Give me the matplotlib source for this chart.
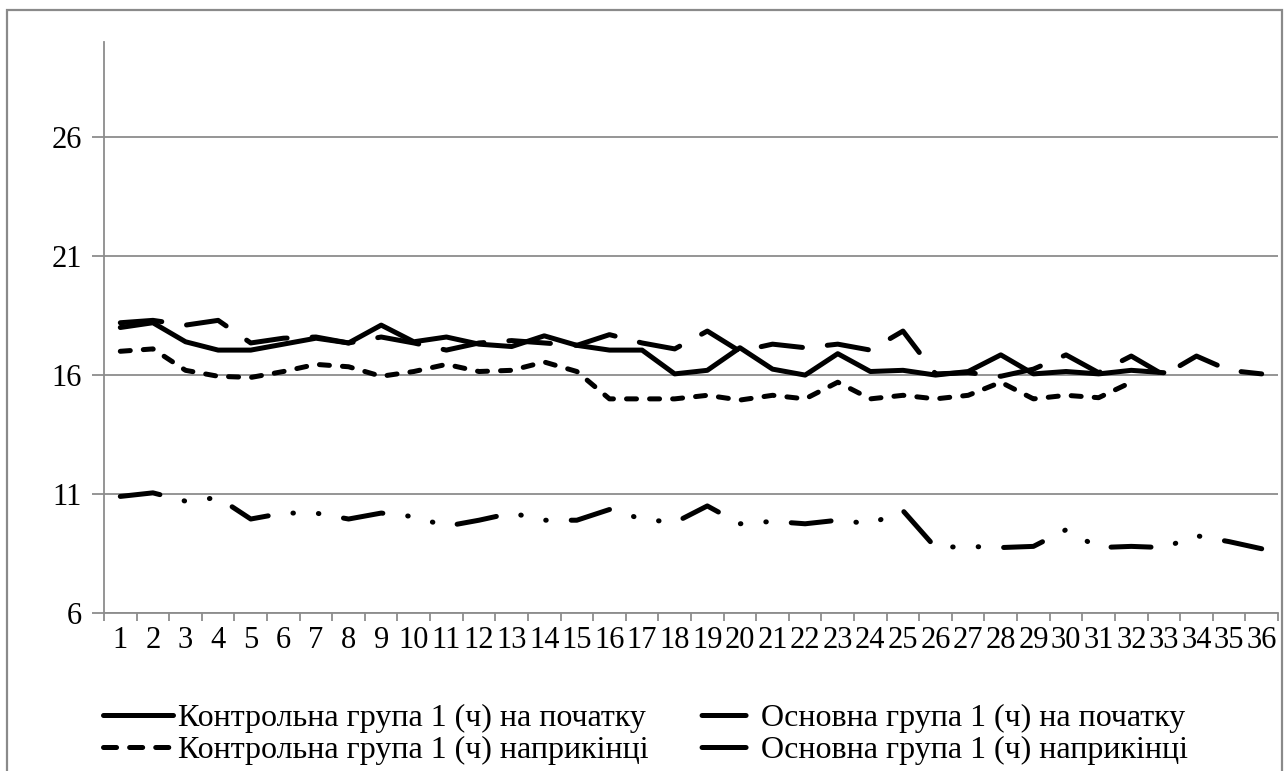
import numpy as np
import matplotlib
matplotlib.use("Agg")
import matplotlib.pyplot as plt
from matplotlib.patches import Rectangle
from matplotlib.lines import Line2D

plt.rcParams["font.family"] = ["Liberation Serif", "DejaVu Serif"]
plt.rcParams["lines.scale_dashes"] = False

categories = [str(i) for i in range(1, 37)]

control_start = [18.0, 18.2, 17.4, 17.05, 17.05, 17.3, 17.55, 17.35, 18.1, 17.4,
                 17.6, 17.3, 17.2, 17.65, 17.25, 17.05, 17.05, 16.05, 16.2, 17.15,
                 16.25, 16.0, 16.9, 16.15, 16.2, 16.0, 16.15, 16.85, 16.05, 16.15,
                 16.05, 16.2, 16.1]
control_end = [17.0, 17.1, 16.2, 15.95, 15.9, 16.15, 16.45, 16.35, 15.95, 16.15,
               16.45, 16.15, 16.2, 16.55, 16.15, 15.0, 15.0, 15.0, 15.15, 14.95,
               15.15, 15.0, 15.7, 15.0, 15.15, 15.0, 15.15, 15.7, 15.0, 15.15,
               15.05, 15.7]
main_start = [18.2, 18.3, 18.1, 18.3, 17.35, 17.55, 17.6, 17.35, 17.6, 17.35,
              17.05, 17.35, 17.45, 17.35, 17.25, 17.7, 17.35, 17.1, 17.85, 17.0,
              17.3, 17.15, 17.3, 17.05, 17.85, 16.05, 16.1, 15.95, 16.25, 16.85,
              16.1, 16.8, 16.0, 16.8, 16.2, 16.05]
main_end = [10.9, 11.05, 10.7, 10.85, 9.95, 10.2, 10.2, 9.95, 10.2, 10.05,
            9.65, 9.9, 10.2, 9.9, 9.9, 10.35, 9.95, 9.8, 10.5, 9.75,
            9.85, 9.75, 9.9, 9.75, 10.3, 8.75, 8.8, 8.75, 8.8, 9.5,
            8.75, 8.8, 8.75, 9.25, 9.0, 8.7]

labels = ["Контрольна група 1 (ч) на початку",
          "Контрольна група 1 (ч) наприкінці",
          "Основна група 1 (ч) на початку",
          "Основна група 1 (ч) наприкінці"]

W, H = 1286, 771
fig = plt.figure(figsize=(W / 100, H / 100), dpi=100)
fig.patch.set_facecolor("white")

# outer chart border
fig.add_artist(Rectangle((7 / W, -0.05), (1282 - 7) / W, (H - 10) / H + 0.05,
                         transform=fig.transFigure, fill=False,
                         ec="#8a8a8a", lw=1.6))

ax = fig.add_axes([104 / W, 1 - 613 / H, (1278 - 104) / W, (613 - 42) / H])

lw = 3.6
common = dict(color="black", lw=lw, solid_joinstyle="round",
              dash_joinstyle="round", dash_capstyle="round", solid_capstyle="round")

x = np.arange(len(categories))
ax.plot(x[:len(control_start)], control_start, **common)
ax.plot(x[:len(control_end)], control_end, linestyle=(0, (7.2, 9.4)), **common)
ax.plot(x, main_start, linestyle=(0, (30, 18)), **common)
ax.plot(x, main_end, linestyle=(0, (28.8, 18, 0.36, 18, 0.36, 18)), **common)

ax.set_xlim(-0.5, len(categories) - 0.5)
ax.set_ylim(6, 30)
ax.set_yticks([6, 11, 16, 21, 26])
ax.yaxis.grid(True, color="#8c8c8c", lw=1.3)
ax.set_axisbelow(True)

ax.set_xticks(x)
ax.set_xticklabels(categories)
ax.set_xticks(np.arange(-0.5, len(categories)), minor=True)
ax.tick_params(axis="x", which="major", length=0, pad=9, labelsize=22)
ax.tick_params(axis="x", which="minor", length=6, width=1.3, color="#8c8c8c")
ax.tick_params(axis="y", length=9, width=1.3, color="#8c8c8c", pad=7, labelsize=22)

for s in ["top", "right"]:
    ax.spines[s].set_visible(False)
for s in ["left", "bottom"]:
    ax.spines[s].set_color("#8c8c8c")
    ax.spines[s].set_linewidth(1.3)

# legend keys: the long-dash series only show one dash, set in from the left
key_dash = (220.5, (31.7, 200))
handles = [
    Line2D([], [], **common),
    Line2D([], [], linestyle=(0, (9.4, 9.4)), **common),
    Line2D([], [], linestyle=key_dash, **common),
    Line2D([], [], linestyle=key_dash, **common),
]
ax.legend(handles, labels, loc="upper left", bbox_to_anchor=(103 / W, 1 - 704 / H),
          bbox_transform=fig.transFigure, ncol=2, frameon=False,
          fontsize=23, handlelength=2.2, handletextpad=0.15,
          columnspacing=1.16, borderpad=0, borderaxespad=0, labelspacing=0.08)

plt.savefig("out.png", dpi=100)
